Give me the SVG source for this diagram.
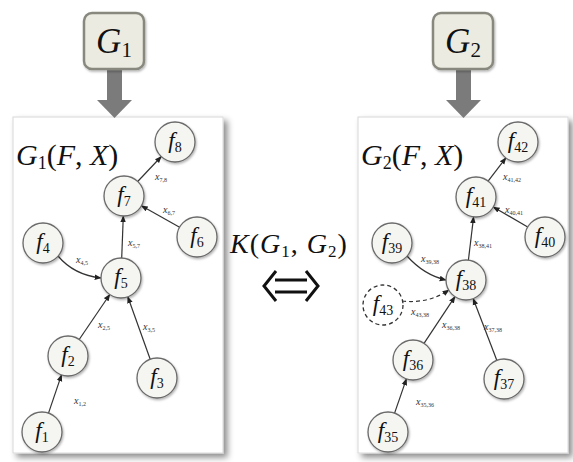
<svg xmlns="http://www.w3.org/2000/svg" width="573" height="462" viewBox="0 0 573 462" font-family="'Liberation Serif', 'DejaVu Serif', serif">
<defs>
<filter id="ps" x="-10%" y="-10%" width="125%" height="125%"><feDropShadow dx="4" dy="4" stdDeviation="3" flood-color="#000" flood-opacity="0.45"/></filter>
<filter id="ns" x="-30%" y="-30%" width="170%" height="170%"><feDropShadow dx="1" dy="1.5" stdDeviation="1.2" flood-color="#000" flood-opacity="0.3"/></filter>
<marker id="ah" viewBox="0 0 10 10" refX="9" refY="5" markerWidth="7" markerHeight="7" markerUnits="userSpaceOnUse" orient="auto"><path d="M0,1 L10,5 L0,9 z" fill="#222"/></marker>
</defs>
<style>
.panel{fill:#fff;stroke:#d8d8d8;stroke-width:1}
.gbox{fill:#ecebe1;stroke:#88887f;stroke-width:2.5}
.garrow{fill:#7b7b7b}
.node circle{fill:#f5f5f2;stroke:#6a6a6a;stroke-width:1.3}
.dashed circle{stroke-dasharray:4 3;stroke:#333}
text{font-family:'Liberation Serif','DejaVu Serif',serif;fill:#111}
.nl{font-size:23px}
.el{font-size:10px;fill:#333}
.it{font-style:italic}
.edge{fill:none;stroke:#333;stroke-width:1.2;marker-end:url(#ah)}
.dash{stroke-dasharray:4 3}
</style>
<rect width="573" height="462" fill="#fff"/>

<g id="panel1"><rect class="panel" x="13" y="117" width="210" height="336" filter="url(#ps)"/></g>
<g id="panel2"><rect class="panel" x="358" y="117" width="210" height="336" filter="url(#ps)"/></g>

<g id="G1">
<rect class="garrow" x="107" y="69" width="15" height="32"/>
<polygon class="garrow" points="97,100 132,100 114.5,118"/>
<rect class="gbox" x="84" y="13" width="60" height="56" rx="8" filter="url(#ns)"/>
<text x="114" y="53" text-anchor="middle" font-size="35"><tspan class="it">G</tspan><tspan font-size="21" dy="4">1</tspan></text>
</g>
<g id="G2">
<rect class="garrow" x="456" y="69" width="15" height="32"/>
<polygon class="garrow" points="446,100 481,100 463.5,118"/>
<rect class="gbox" x="433" y="13" width="60" height="56" rx="8" filter="url(#ns)"/>
<text x="463" y="53" text-anchor="middle" font-size="35"><tspan class="it">G</tspan><tspan font-size="21" dy="4">2</tspan></text>
</g>

<text x="16" y="165" font-size="30"><tspan class="it">G</tspan><tspan font-size="18" dy="4">1</tspan><tspan dy="-4">(</tspan><tspan class="it">F</tspan><tspan>, </tspan><tspan class="it">X</tspan><tspan>)</tspan></text>
<text x="361" y="165" font-size="30"><tspan class="it">G</tspan><tspan font-size="18" dy="4">2</tspan><tspan dy="-4">(</tspan><tspan class="it">F</tspan><tspan>, </tspan><tspan class="it">X</tspan><tspan>)</tspan></text>

<g id="kernel">
<text x="289" y="253" text-anchor="middle" font-size="28" letter-spacing="1"><tspan class="it">K</tspan><tspan>(</tspan><tspan class="it">G</tspan><tspan font-size="17" dy="4">1</tspan><tspan dy="-4">, </tspan><tspan class="it">G</tspan><tspan font-size="17" dy="4">2</tspan><tspan dy="-4">)</tspan></text>
<path d="M275,280 H307 M275,292 H307 M276,271 L264,286 L276,301 M306,271 L318,286 L306,301" fill="none" stroke="#111" stroke-width="3" stroke-linejoin="miter"/>
</g>

<g id="connectors">
<path class="edge" d="M137.7,181.5 L161.3,156.5"/>
<path class="edge" d="M179.6,227.2 L141.4,205.8"/>
<path class="edge" d="M121.7,258 L123.3,216"/>
<path class="edge" d="M58,256 Q74,275 101,278"/>
<path class="edge" d="M79.2,339.5 L109.8,294.5"/>
<path class="edge" d="M150.2,359.2 L127.8,296.8"/>
<path class="edge" d="M48.5,413.1 L61.5,374.9"/>
<path class="edge" d="M488.1,181.1 L505.9,157.9"/>
<path class="edge" d="M527.7,227 L493.3,207"/>
<path class="edge" d="M468.4,260.1 L473.6,216.9"/>
<path class="edge" d="M407,256 Q424,275 446,280"/>
<path class="edge dash" d="M402,301 Q428,304 449,290"/>
<path class="edge" d="M424,343.3 L455,296.7"/>
<path class="edge" d="M496.8,360.3 L473.2,298.7"/>
<path class="edge" d="M394.6,413.1 L406.4,378.9"/>
<text class="el" x="155" y="180"><tspan class="it">x</tspan><tspan font-size="6" dy="2">7,8</tspan></text>
<text class="el" x="163" y="213"><tspan class="it">x</tspan><tspan font-size="6" dy="2">6,7</tspan></text>
<text class="el" x="128" y="246"><tspan class="it">x</tspan><tspan font-size="6" dy="2">5,7</tspan></text>
<text class="el" x="76" y="263"><tspan class="it">x</tspan><tspan font-size="6" dy="2">4,5</tspan></text>
<text class="el" x="98" y="328"><tspan class="it">x</tspan><tspan font-size="6" dy="2">2,5</tspan></text>
<text class="el" x="143" y="330"><tspan class="it">x</tspan><tspan font-size="6" dy="2">3,5</tspan></text>
<text class="el" x="74" y="404"><tspan class="it">x</tspan><tspan font-size="6" dy="2">1,2</tspan></text>
<text class="el" x="503" y="180"><tspan class="it">x</tspan><tspan font-size="6" dy="2">41,42</tspan></text>
<text class="el" x="505" y="213"><tspan class="it">x</tspan><tspan font-size="6" dy="2">40,41</tspan></text>
<text class="el" x="474" y="246"><tspan class="it">x</tspan><tspan font-size="6" dy="2">38,41</tspan></text>
<text class="el" x="421" y="262"><tspan class="it">x</tspan><tspan font-size="6" dy="2">39,38</tspan></text>
<text class="el" x="411" y="315"><tspan class="it">x</tspan><tspan font-size="6" dy="2">43,38</tspan></text>
<text class="el" x="442" y="328"><tspan class="it">x</tspan><tspan font-size="6" dy="2">36,38</tspan></text>
<text class="el" x="484" y="330"><tspan class="it">x</tspan><tspan font-size="6" dy="2">37,38</tspan></text>
<text class="el" x="416" y="405"><tspan class="it">x</tspan><tspan font-size="6" dy="2">35,36</tspan></text>
</g>

<g id="f1" class="node"><circle cx="42" cy="432" r="20" filter="url(#ns)"/><text class="nl" x="42" y="438" text-anchor="middle"><tspan class="it">f</tspan><tspan font-size="14" dy="4">1</tspan></text></g>
<g id="f2" class="node"><circle cx="68" cy="356" r="20" filter="url(#ns)"/><text class="nl" x="68" y="362" text-anchor="middle"><tspan class="it">f</tspan><tspan font-size="14" dy="4">2</tspan></text></g>
<g id="f3" class="node"><circle cx="157" cy="378" r="20" filter="url(#ns)"/><text class="nl" x="157" y="384" text-anchor="middle"><tspan class="it">f</tspan><tspan font-size="14" dy="4">3</tspan></text></g>
<g id="f4" class="node"><circle cx="43" cy="243" r="20" filter="url(#ns)"/><text class="nl" x="43" y="249" text-anchor="middle"><tspan class="it">f</tspan><tspan font-size="14" dy="4">4</tspan></text></g>
<g id="f5" class="node"><circle cx="121" cy="278" r="20" filter="url(#ns)"/><text class="nl" x="121" y="284" text-anchor="middle"><tspan class="it">f</tspan><tspan font-size="14" dy="4">5</tspan></text></g>
<g id="f6" class="node"><circle cx="197" cy="237" r="20" filter="url(#ns)"/><text class="nl" x="197" y="243" text-anchor="middle"><tspan class="it">f</tspan><tspan font-size="14" dy="4">6</tspan></text></g>
<g id="f7" class="node"><circle cx="124" cy="196" r="20" filter="url(#ns)"/><text class="nl" x="124" y="202" text-anchor="middle"><tspan class="it">f</tspan><tspan font-size="14" dy="4">7</tspan></text></g>
<g id="f8" class="node"><circle cx="175" cy="142" r="20" filter="url(#ns)"/><text class="nl" x="175" y="148" text-anchor="middle"><tspan class="it">f</tspan><tspan font-size="14" dy="4">8</tspan></text></g>

<g id="f35" class="node"><circle cx="388" cy="432" r="20" filter="url(#ns)"/><text class="nl" x="388" y="438" text-anchor="middle"><tspan class="it">f</tspan><tspan font-size="14" dy="4">35</tspan></text></g>
<g id="f36" class="node"><circle cx="413" cy="360" r="20" filter="url(#ns)"/><text class="nl" x="413" y="366" text-anchor="middle"><tspan class="it">f</tspan><tspan font-size="14" dy="4">36</tspan></text></g>
<g id="f37" class="node"><circle cx="504" cy="379" r="20" filter="url(#ns)"/><text class="nl" x="504" y="385" text-anchor="middle"><tspan class="it">f</tspan><tspan font-size="14" dy="4">37</tspan></text></g>
<g id="f38" class="node"><circle cx="466" cy="280" r="20" filter="url(#ns)"/><text class="nl" x="466" y="286" text-anchor="middle"><tspan class="it">f</tspan><tspan font-size="14" dy="4">38</tspan></text></g>
<g id="f39" class="node"><circle cx="392" cy="243" r="20" filter="url(#ns)"/><text class="nl" x="392" y="249" text-anchor="middle"><tspan class="it">f</tspan><tspan font-size="14" dy="4">39</tspan></text></g>
<g id="f40" class="node"><circle cx="545" cy="237" r="20" filter="url(#ns)"/><text class="nl" x="545" y="243" text-anchor="middle"><tspan class="it">f</tspan><tspan font-size="14" dy="4">40</tspan></text></g>
<g id="f41" class="node"><circle cx="476" cy="197" r="20" filter="url(#ns)"/><text class="nl" x="476" y="203" text-anchor="middle"><tspan class="it">f</tspan><tspan font-size="14" dy="4">41</tspan></text></g>
<g id="f42" class="node"><circle cx="518" cy="142" r="20" filter="url(#ns)"/><text class="nl" x="518" y="148" text-anchor="middle"><tspan class="it">f</tspan><tspan font-size="14" dy="4">42</tspan></text></g>
<g id="f43" class="node dashed"><circle cx="383" cy="305" r="20" style="fill:#fff"/><text class="nl" x="383" y="311" text-anchor="middle"><tspan class="it">f</tspan><tspan font-size="14" dy="4">43</tspan></text></g>
</svg>
